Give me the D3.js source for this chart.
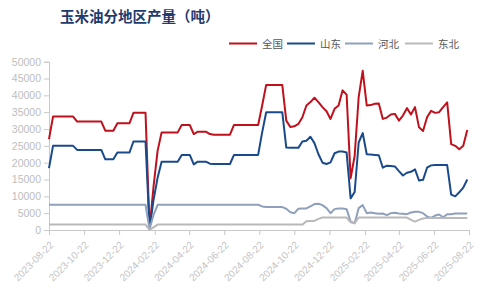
<!DOCTYPE html>
<html><head><meta charset="utf-8">
<script src="https://cdn.jsdelivr.net/npm/d3@7"></script>
<style>body{margin:0;background:#fff}svg{display:block}</style>
</head><body>
<svg id="c" width="484" height="295"></svg>
<script>
const startDate = "2023-08-22"; // weekly series start
const seriesNames = ["全国", "山东", "河北", "东北"];
const tickLabels = ["2023-08-22","2023-10-22","2023-12-22","2024-02-22","2024-04-22","2024-06-22","2024-08-22","2024-10-22","2024-12-22","2025-02-22","2025-04-22","2025-06-22","2025-08-22"];
const yTicks = [0,5000,10000,15000,20000,25000,30000,35000,40000,45000,50000];

const quanguo = [27000,
 33700,33700,33700,33700,33700,33700,
 32200,32200,32200,32200,32200,32200,32200,
 29500,29500,29500,
 31700,31700,31700,31700,
 34800,34800,34800,34800,
 500,13000,23500,
 29000,29000,29000,29000,29000,
 31200,31200,31200,
 28500,29200,29200,29200,28500,
 28300,28300,28300,28300,28300,
 31200,31200,31200,31200,31200,31200,31200,
 37000,43100,43100,43100,43100,43100,
 32500,30600,30800,31500,33500,37000,38000,39300,38000,36500,
 35300,33000,36000,37000,41500,40200,15400,22000,39500,47300,
 37000,37100,37500,37600,33000,33400,34300,34500,32500,34000,
 36200,34300,36500,30500,29400,33500,35400,34800,35000,36500,
 37900,25500,25000,24000,25000,29700];
const shandong = [18400,
 25000,25000,25000,25000,25000,25000,
 23800,23800,23800,23800,23800,23800,23800,
 21000,21000,21000,
 23000,23000,23000,23000,
 26300,26300,26300,26300,
 300,9000,15500,
 20300,20300,20300,20300,20300,
 22300,22300,22300,
 19500,20300,20300,20300,19700,
 19600,19600,19600,19600,19600,
 22300,22300,22300,22300,22300,22300,22300,
 29000,35000,35000,35000,35000,35000,
 24500,24400,24400,24400,26300,26500,27700,25800,22500,20000,
 19600,20100,22800,23300,23300,23000,9400,11300,26000,28800,
 22500,22400,22300,22200,18500,19100,19000,18900,17500,16200,
 17000,17300,18000,14700,14900,18500,19200,19300,19300,19300,
 19300,10500,10000,11200,12600,15000];
const hebei = [7500,7500,7500,7500,7500,7500,7500,7500,7500,7500,
 7500,7500,7500,7500,7500,7500,7500,7500,7500,7500,
 7500,7500,7500,7500,7500,
 200,4500,
 7500,7500,7500,7500,7500,7500,7500,7500,7500,7500,
 7500,7500,7500,7500,7500,7500,7500,7500,7500,7500,
 7500,7500,7500,7500,7500,7500,
 7000,6800,6800,6800,6800,6800,
 6300,5300,5000,6300,6400,6400,7000,7700,7800,7400,
 6500,5000,6200,6400,6400,6200,2500,2000,6500,7400,
 5000,5200,5000,4800,4900,4400,5000,5100,4900,4800,
 4700,5200,5400,5400,5000,4000,3600,4300,4600,3800,
 4700,4700,4900,4900,4900,4900];
const dongbei = [1600,1600,1600,1600,1600,1600,1600,1600,1600,1600,
 1600,1600,1600,1600,1600,1600,1600,1600,1600,1600,
 1600,1600,1600,1600,1600,
 0,800,
 1600,1600,1600,1600,1600,1600,1600,1600,1600,1600,
 1600,1600,1600,1600,1600,1600,1600,1600,1600,1600,
 1600,1600,1600,1600,1600,1600,1600,1600,1600,1600,
 1600,1600,1600,1600,1600,1600,1600,
 2600,2700,2700,3300,
 3700,3700,3700,3700,3700,3700,3700,
 2300,2000,
 3700,3700,3700,3700,3700,3700,3700,3700,3700,3700,3700,3700,3700,
 3000,2500,3000,3400,
 3600,3600,3600,3600,3600,3600,3600,3600,3600,3600,3600];

const colors = ["#c0101c", "#1a4a8c", "#8fa0bd", "#b9b9b9"];
const allSeries = [quanguo, shandong, hebei, dongbei];

const parse = d3.timeParse("%Y-%m-%d");
const t0 = parse(startDate);
const dates = quanguo.map((_, i) => d3.timeDay.offset(t0, i * 7));

const svg = d3.select("#c");
const x = d3.scaleTime().domain([parse(tickLabels[0]), parse(tickLabels[tickLabels.length-1])]).range([49, 469]);
const y = d3.scaleLinear().domain([0, 50000]).range([230, 61.7]);

// title
svg.append("text").attr("x", 60).attr("y", 22)
  .attr("font-family", "'Noto Sans CJK SC', sans-serif").attr("font-weight", "bold")
  .attr("font-size", 14.5).attr("fill", "#1f3b6e").text("玉米油分地区产量（吨）");

// y axis
const yAxis = svg.append("g").attr("transform", "translate(49,0)")
  .call(d3.axisLeft(y).tickValues(yTicks).tickSize(5).tickPadding(3).tickFormat(d3.format("d")));
yAxis.selectAll("path,line").attr("stroke", "#c8c8c8");
yAxis.selectAll("text").attr("fill", "#bdbdbd").attr("font-size", 10.5)
  .attr("font-family", "'Liberation Sans', Arial, sans-serif");

// x axis
const xAxis = svg.append("g").attr("transform", "translate(0,230)")
  .call(d3.axisBottom(x).tickValues(tickLabels.map(parse)).tickSize(5).tickSizeOuter(0).tickFormat(d3.timeFormat("%Y-%m-%d")));
xAxis.selectAll("path,line").attr("stroke", "#c8c8c8");
xAxis.selectAll("text").attr("fill", "#c4c4c4").attr("font-size", 10)
  .attr("font-family", "'Liberation Sans', Arial, sans-serif")
  .attr("text-anchor", "end").attr("dy", 0)
  .attr("transform", "translate(-1,10) rotate(-45)");

// lines
const line = d3.line().x((d, i) => x(dates[i])).y(d => y(d)).curve(d3.curveLinear);
allSeries.forEach((s, k) => {
  svg.append("path").datum(s).attr("d", line).attr("fill", "none")
    .attr("stroke", colors[k]).attr("stroke-width", 2).attr("stroke-linejoin", "round");
});

// legend
const legX = [229, 287, 345, 405];
const leg = svg.append("g");
seriesNames.forEach((n, k) => {
  leg.append("line").attr("x1", legX[k]).attr("x2", legX[k] + 28).attr("y1", 43.5).attr("y2", 43.5)
    .attr("stroke", colors[k]).attr("stroke-width", 2);
  leg.append("text").attr("x", legX[k] + 33).attr("y", 47.5).attr("font-size", 10.5)
    .attr("font-family", "'Noto Sans CJK SC', sans-serif").attr("fill", "#555").text(n);
});
</script>
</body></html>
